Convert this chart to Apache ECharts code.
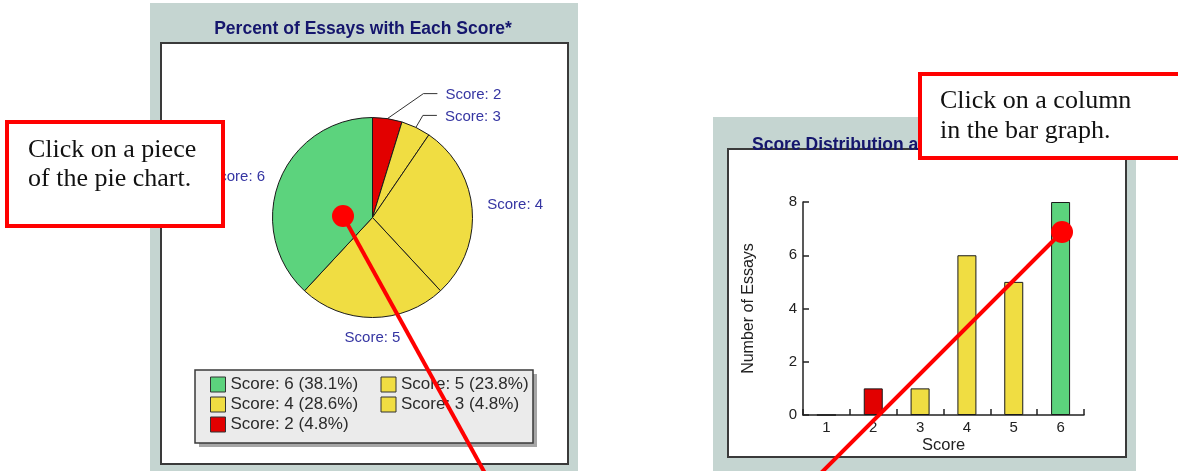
<!DOCTYPE html>
<html>
<head>
<meta charset="utf-8">
<title>Essay Scores</title>
<script src="https://cdn.jsdelivr.net/npm/echarts@6.0.0/dist/echarts.min.js"></script>
<style>
  html, body { margin: 0; padding: 0; background: #ffffff; }
  #chart { width: 1178px; height: 471px; }
</style>
</head>
<body>
<div id="chart"></div>
<script>
// ---- data ----
const scores = ['1', '2', '3', '4', '5', '6'];
const essayCounts = [0, 1, 1, 6, 5, 8];

// ---- text ----
const pieTitle = 'Percent of Essays with Each Score*';
const barTitle = 'Score Distribution and Averages';
const xAxisName = 'Score';
const yAxisName = 'Number of Essays';
const pieNote = 'Click on a piece\nof the pie chart.';
const barNote = 'Click on a column\nin the bar graph.';

// ---- style ----
const SANS = '"Liberation Sans", Arial, Helvetica, sans-serif';
const SERIF = '"Liberation Serif", "Times New Roman", serif';
const RED = '#e20000', YELLOW = '#f0dd42', GREEN = '#5cd37d';
const scoreColors = { '1': RED, '2': RED, '3': YELLOW, '4': YELLOW, '5': YELLOW, '6': GREEN };
const PANEL = '#c5d5d1';
const TITLE_COLOR = '#15166d';
const NOTE_RED = '#ff0000';

// label tweaks for the pie: leader-line elbows (relative to the slice edge point) and nudges
const pieLabelTweaks = {
  'Score: 2': { elbow: [36, -25], run: 14, gap: 8 },
  'Score: 3': { elbow: [7, -12], run: 14, gap: 8 },
  'Score: 4': { dy: -4 },
  'Score: 5': { centered: true, dy: 10 }
};

// pie slices: every score that has at least one essay, in score order
const pieData = scores
  .map((s, i) => ({ score: s, count: essayCounts[i] }))
  .filter(d => d.count > 0)
  .map(d => {
    const name = 'Score: ' + d.score;
    const tw = pieLabelTweaks[name];
    return {
      name: name,
      value: d.count,
      itemStyle: { color: scoreColors[d.score] },
      labelLine: { show: !!(tw && tw.elbow) }
    };
  });
const total = pieData.reduce((a, d) => a + d.value, 0);
const legendOrder = pieData.map(d => d.name).reverse();

const barData = essayCounts.map((v, i) => ({
  value: v,
  itemStyle: { color: scoreColors[scores[i]] }
}));

const chart = echarts.init(document.getElementById('chart'), null, { renderer: 'canvas' });

function txt(text, x, y, font, fill, align, vAlign, z, extra) {
  return Object.assign({
    type: 'text', x: x, y: y, z: z,
    style: {
      text: text, font: font, fill: fill,
      align: align, verticalAlign: vAlign,
      textAlign: align, textVerticalAlign: vAlign
    }
  }, extra || {});
}

const option = {
  animation: false,
  backgroundColor: '#ffffff',
  legend: {
    data: legendOrder,
    left: 210,
    top: 376,
    width: 340,
    padding: 0,
    itemGap: 3,
    itemWidth: 15,
    itemHeight: 15,
    icon: 'rect',
    selectedMode: false,
    itemStyle: { borderColor: '#333333', borderWidth: 1 },
    textStyle: { fontFamily: SANS, fontSize: 17, lineHeight: 17, color: '#2b2b2b', width: 147 },
    formatter: function (name) {
      const d = pieData.find(p => p.name === name);
      return name + ' (' + (d.value / total * 100).toFixed(1) + '%)';
    },
    z: 6
  },
  grid: { left: 803, right: 94, top: 202, bottom: 56 },
  xAxis: {
    type: 'category',
    data: scores,
    boundaryGap: true,
    name: xAxisName,
    nameLocation: 'middle',
    nameGap: 22,
    nameTextStyle: { fontFamily: SANS, fontSize: 16.5, color: '#222222' },
    axisLine: { show: true, lineStyle: { color: '#222222', width: 1.5 } },
    axisTick: { show: true, inside: true, length: 6, alignWithLabel: false, lineStyle: { color: '#222222', width: 1.5 } },
    axisLabel: { margin: 5, fontFamily: SANS, fontSize: 15, color: '#222222' },
    splitLine: { show: false }
  },
  yAxis: {
    type: 'value',
    min: 0, max: 8, interval: 2,
    name: yAxisName,
    nameLocation: 'middle',
    nameRotate: 90,
    nameGap: 46,
    nameTextStyle: { fontFamily: SANS, fontSize: 16, color: '#222222' },
    axisLine: { show: true, lineStyle: { color: '#222222', width: 1.5 } },
    axisTick: { show: true, inside: true, length: 6, lineStyle: { color: '#222222', width: 1.5 } },
    axisLabel: { margin: 6, fontFamily: SANS, fontSize: 15, color: '#222222' },
    splitLine: { show: true, lineStyle: { color: '#e0e0e0', width: 1.5 } }
  },
  series: [
    {
      type: 'pie',
      center: [372.5, 217.5],
      radius: 100,
      startAngle: 90,
      clockwise: true,
      avoidLabelOverlap: false,
      silent: true,
      z: 3,
      itemStyle: { borderColor: '#1a1a1a', borderWidth: 1 },
      label: {
        show: true, position: 'outside', formatter: '{b}',
        fontFamily: SANS, fontSize: 15, color: '#3535a2'
      },
      labelLine: { show: true, length: 10, length2: 0, smooth: false, lineStyle: { color: '#333333', width: 1 } },
      labelLayout: function (p) {
        const name = pieData[p.dataIndex].name;
        const tw = pieLabelTweaks[name];
        if (!tw) return {};
        if (tw.elbow && p.labelLinePoints) {
          const x0 = p.labelLinePoints[0][0], y0 = p.labelLinePoints[0][1];
          const ex = x0 + tw.elbow[0], ey = y0 + tw.elbow[1];
          return {
            x: ex + tw.run + tw.gap, y: ey + 1,
            align: 'left', verticalAlign: 'middle',
            labelLinePoints: [[x0, y0], [ex, ey], [ex + tw.run, ey]]
          };
        }
        const cy = p.labelRect.y + p.labelRect.height / 2 + (tw.dy || 0);
        if (tw.centered) {
          return { x: p.rect.x + p.rect.width / 2, y: cy, align: 'center', verticalAlign: 'middle' };
        }
        return { y: cy, verticalAlign: 'middle' };
      },
      emphasis: { disabled: true },
      data: pieData
    },
    {
      type: 'bar',
      barWidth: 19,
      silent: true,
      z: 3,
      itemStyle: { borderColor: '#1a1a1a', borderWidth: 1 },
      emphasis: { disabled: true },
      data: barData
    }
  ],
  graphic: [
    // pie panel
    { type: 'rect', z: 0, z2: 0, shape: { x: 150, y: 3, width: 428, height: 470 }, style: { fill: PANEL } },
    { type: 'rect', z: 0, z2: 1, shape: { x: 161, y: 43, width: 407, height: 421 }, style: { fill: '#ffffff', stroke: '#3a3a3a', lineWidth: 2 } },
    txt(pieTitle, 363, 29, 'bold 17.5px ' + SANS, TITLE_COLOR, 'center', 'middle', 1),
    // legend box and its shadow
    { type: 'rect', z: 2, z2: 0, shape: { x: 199, y: 374, width: 338, height: 73 }, style: { fill: '#a6a6a6' } },
    { type: 'rect', z: 2, z2: 1, shape: { x: 195, y: 370, width: 338, height: 73 }, style: { fill: '#ebebeb', stroke: '#3a3a3a', lineWidth: 1.5 } },
    // bar panel
    { type: 'rect', z: 0, z2: 0, shape: { x: 713, y: 117, width: 423, height: 356 }, style: { fill: PANEL } },
    { type: 'rect', z: 0, z2: 1, shape: { x: 728, y: 149, width: 398, height: 308 }, style: { fill: '#ffffff', stroke: '#3a3a3a', lineWidth: 2 } },
    txt(barTitle, 752, 145, 'bold 17.5px ' + SANS, TITLE_COLOR, 'left', 'middle', 1),
    // call-out notes
    { type: 'rect', z: 100, z2: 0, shape: { x: 7, y: 122, width: 216, height: 104 }, style: { fill: '#ffffff', stroke: NOTE_RED, lineWidth: 4 } },
    txt(pieNote, 28, 135.5, '26px ' + SERIF, '#111111', 'left', 'top', 100, { style: { text: pieNote, font: '26px ' + SERIF, fill: '#111111', align: 'left', verticalAlign: 'top', textAlign: 'left', textVerticalAlign: 'top', lineHeight: 29 } }),
    { type: 'rect', z: 100, z2: 0, shape: { x: 920, y: 74, width: 300, height: 84 }, style: { fill: '#ffffff', stroke: NOTE_RED, lineWidth: 4 } },
    txt(barNote, 940, 86, '26px ' + SERIF, '#111111', 'left', 'top', 100, { style: { text: barNote, font: '26px ' + SERIF, fill: '#111111', align: 'left', verticalAlign: 'top', textAlign: 'left', textVerticalAlign: 'top', lineHeight: 30 } }),
    // pointers
    { type: 'line', z: 100, z2: 1, shape: { x1: 343, y1: 216, x2: 486, y2: 475 }, style: { stroke: NOTE_RED, lineWidth: 4 } },
    { type: 'circle', z: 100, z2: 2, shape: { cx: 343, cy: 216, r: 11 }, style: { fill: NOTE_RED } },
    { type: 'line', z: 100, z2: 1, shape: { x1: 1062, y1: 232, x2: 820, y2: 474 }, style: { stroke: NOTE_RED, lineWidth: 4 } },
    { type: 'circle', z: 100, z2: 2, shape: { cx: 1062, cy: 232, r: 11 }, style: { fill: NOTE_RED } }
  ]
};

chart.setOption(option);
</script>
</body>
</html>
